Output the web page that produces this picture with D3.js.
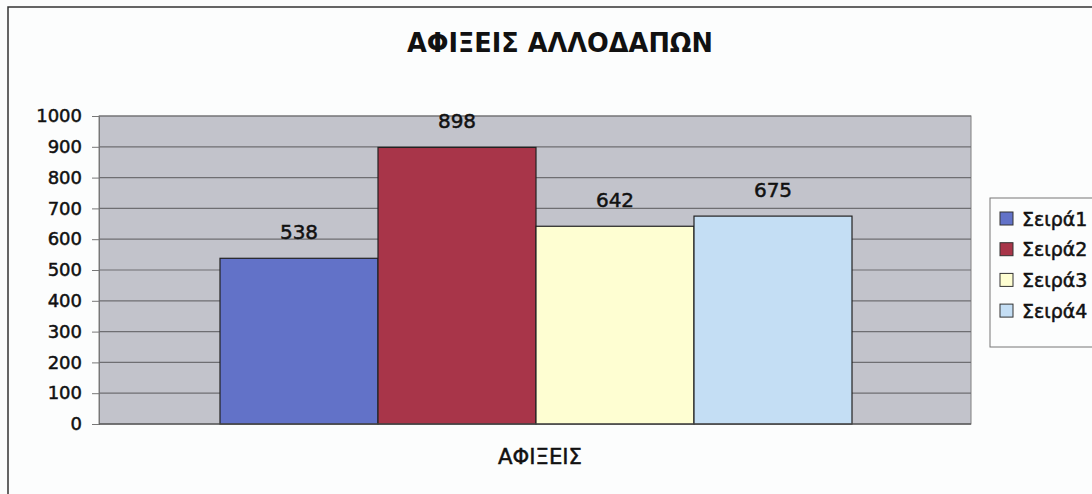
<!DOCTYPE html>
<html><head><meta charset="utf-8">
<script src="https://cdn.jsdelivr.net/npm/d3@7"></script>
<style>body{margin:0;background:#fff}svg{display:block}text{font-family:"DejaVu Sans","Liberation Sans",Arial,sans-serif}
.heavy{stroke:#111;stroke-width:0.5px}</style>
</head><body>
<svg id="c" width="1092" height="494"></svg>
<script>
const title = "ΑΦΙΞΕΙΣ ΑΛΛΟΔΑΠΩΝ";
const category = ["ΑΦΙΞΕΙΣ"];
const seriesNames = ["Σειρά1", "Σειρά2", "Σειρά3", "Σειρά4"];
const seriesValues = [538, 898, 642, 675];
const seriesColors = ["#6272c8", "#a83549", "#fefed2", "#c4def4"];
const yTicks = [0, 100, 200, 300, 400, 500, 600, 700, 800, 900, 1000];

const svg = d3.select("#c");
svg.append("rect").attr("width", 1092).attr("height", 494).attr("fill", "#fcfdfd");
svg.append("rect").attr("x", 8).attr("y", 7).attr("width", 1200).attr("height", 600)
  .attr("fill", "none").attr("stroke", "#333").attr("stroke-width", 1.5);

const plot = {left: 99, right: 971, top: 116, bottom: 424};
const y = d3.scaleLinear().domain([0, 1000]).range([plot.bottom, plot.top]);
const x0 = d3.scaleBand().domain(category).range([plot.left, plot.right]).paddingInner(0).paddingOuter(0);
const x1 = d3.scaleBand().domain(seriesNames).range([x0(category[0]) + 121, x0(category[0]) + x0.bandwidth() - 119]);

svg.append("rect").attr("x", plot.left).attr("y", plot.top)
  .attr("width", plot.right - plot.left).attr("height", plot.bottom - plot.top)
  .attr("fill", "#c2c3cb").attr("stroke", "#808080").attr("stroke-width", 1);

const yAxis = d3.axisLeft(y).tickValues(yTicks).tickFormat(d3.format("d")).tickSize(7).tickPadding(10);
const gy = svg.append("g").attr("transform", `translate(${plot.left},0)`).call(yAxis);
gy.attr("font-family", null);
gy.select(".domain").attr("stroke", "#777");
gy.selectAll(".tick line").attr("stroke", "#777");
gy.selectAll(".tick text").attr("font-size", 18).attr("fill", "#111").attr("class", "heavy");

svg.append("g").selectAll("line").data(yTicks).join("line")
  .attr("x1", plot.left).attr("x2", plot.right)
  .attr("y1", d => y(d)).attr("y2", d => y(d))
  .attr("stroke", "#6e6e72").attr("stroke-width", 1.2);

svg.append("g").selectAll("rect").data(seriesValues).join("rect")
  .attr("x", (d, i) => x1(seriesNames[i]))
  .attr("y", d => y(d))
  .attr("width", x1.bandwidth())
  .attr("height", d => y(0) - y(d))
  .attr("fill", (d, i) => seriesColors[i])
  .attr("stroke", "#222").attr("stroke-width", 1.2);

svg.append("g").selectAll("text").data(seriesValues).join("text")
  .attr("x", (d, i) => x1(seriesNames[i]) + x1.bandwidth() / 2)
  .attr("y", d => y(d) - 19)
  .attr("text-anchor", "middle").attr("font-size", 20).attr("fill", "#111").attr("class", "heavy")
  .text(d => d);

svg.append("line").attr("x1", plot.left).attr("x2", plot.right)
  .attr("y1", plot.bottom).attr("y2", plot.bottom).attr("stroke", "#555").attr("stroke-width", 1.2);

svg.append("text").attr("x", 407).attr("y", 52)
  .attr("font-size", 26).attr("font-weight", "bold").attr("fill", "#111")
  .attr("textLength", 306).attr("lengthAdjust", "spacingAndGlyphs")
  .text(title);

svg.append("text").attr("x", 498).attr("y", 464)
  .attr("font-size", 21).attr("fill", "#111").attr("class", "heavy")
  .attr("textLength", 84).attr("lengthAdjust", "spacingAndGlyphs")
  .text(category[0]);

const lg = svg.append("g");
lg.append("rect").attr("x", 990).attr("y", 198).attr("width", 130).attr("height", 149)
  .attr("fill", "#fcfdfd").attr("stroke", "#777").attr("stroke-width", 1);
const items = lg.selectAll("g.item").data(seriesNames).join("g").attr("class", "item")
  .attr("transform", (d, i) => `translate(1000,${218.5 + i * 30.7})`);
items.append("rect").attr("x", 0).attr("y", -6.5).attr("width", 13).attr("height", 13)
  .attr("fill", (d, i) => seriesColors[i]).attr("stroke", "#333").attr("stroke-width", 1);
items.append("text").attr("x", 22).attr("y", 7).attr("font-size", 19)
  .attr("fill", "#111").attr("class", "heavy").text(d => d);
</script>
</body></html>
